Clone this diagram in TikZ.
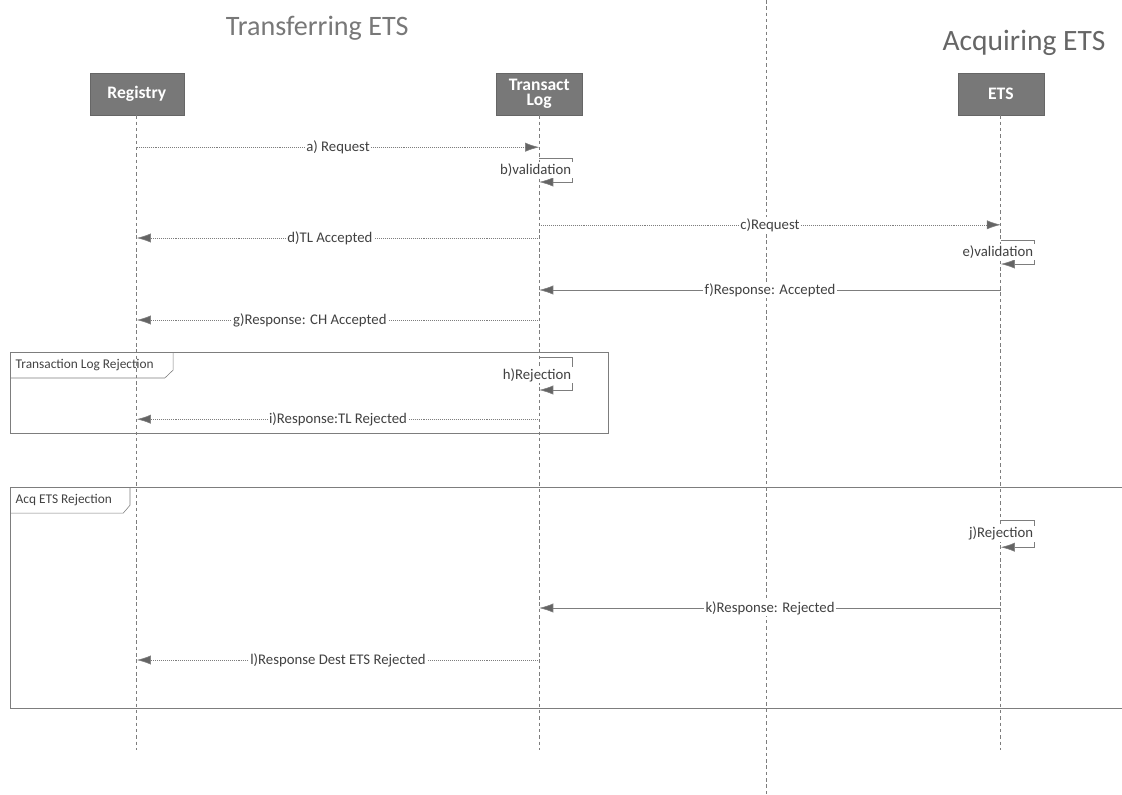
\documentclass[tikz,border=0pt]{standalone}
\usepackage{fontspec}
\setmainfont{Carlito}
\usetikzlibrary{arrows.meta, positioning, calc}
\definecolor{boxgray}{RGB}{120, 120, 120}
\definecolor{linegray}{RGB}{125, 125, 125}
\definecolor{textgray}{RGB}{65, 65, 65}
\definecolor{titlegray}{RGB}{120, 120, 120}

\begin{document}
\begin{tikzpicture}[
  actor/.style={draw=boxgray!85!black, fill=boxgray, text=white, font=\fontsize{12.5}{12}\selectfont\bfseries, minimum height=1.05cm, align=center, inner sep=2pt},
  lifeline/.style={linegray, dash pattern=on 2.5pt off 2pt, semithick},
  msg/.style={linegray, thin, -{Latex[length=10pt, width=6.5pt, fill=linegray!80!black]}},
  reply/.style={msg, densely dotted},
  lbl/.style={fill=white, text=textgray, font=\fontsize{10.5}{12}\selectfont, inner sep=1pt},
  frame/.style={linegray, thin},
  frametag/.style={text=textgray, font=\fontsize{9.5}{11}\selectfont, anchor=west, inner sep=1pt},
  title/.style={titlegray, font=\fontsize{20}{24}\selectfont}
]
  \useasboundingbox (0,0) rectangle (28.05,-19.85);

  % Titles and divider
  \node[title] (ttrans) at (7.93,-0.7) {Transferring ETS};
  \node[title, text=titlegray!85!black, font=\fontsize{21}{24}\selectfont] (tacq) at (25.6,-1.07) {Acquiring ETS};
  \coordinate (divtop) at (19.15,0);
  \coordinate (divbot) at (19.15,-19.85);
  \draw[lifeline] (divtop) -- (divbot);

  % Frames
  \draw[frame] (0.25,-8.8) rectangle (15.2,-10.83);
  \draw[frame] (0.25,-9.45) -- (4.12,-9.45) -- (4.33,-9.25) -- (4.33,-8.8);
  \node[frametag] (ftl) at (0.35,-9.12) {Transaction Log Rejection};
  \draw[frame] (28.05,-12.18) -- (0.25,-12.18) -- (0.25,-17.7) -- (28.05,-17.7);
  \draw[frame] (0.25,-12.83) -- (3.08,-12.83) -- (3.25,-12.63) -- (3.25,-12.18);
  \node[frametag] (facq) at (0.35,-12.5) {Acq ETS Rejection};

  % Actors and lifelines
  \node[actor, minimum width=2.35cm] (reg) at (3.42,-2.35) {Registry};
  \node[actor, minimum width=2.15cm] (tl) at (13.48,-2.35) {Transact\\[-1pt]Log};
  \node[actor, minimum width=2.15cm] (ets) at (25.02,-2.35) {ETS};
  \coordinate (lend) at (0,-18.75);
  \draw[lifeline] (reg) -- (reg |- lend);
  \draw[lifeline] (tl) -- (tl |- lend);
  \draw[lifeline] (ets) -- (ets |- lend);

  % Main flow
  \coordinate (ya) at (0,-3.68);
  \draw[reply] (reg |- ya) -- node[lbl] {a) Request} (tl |- ya);
  \coordinate (yb1) at (0,-3.95);
  \coordinate (yb2) at (0,-4.55);
  \draw[msg] (tl |- yb1) -- ++(0.82,0) |- (tl |- yb2);
  \node[lbl, anchor=east] (lb) at ($(tl |- yb1)!0.5!(tl |- yb2)+(0.84,0)$) {b)validation};
  \coordinate (yc) at (0,-5.62);
  \draw[reply] (tl |- yc) -- node[lbl] {c)Request} (ets |- yc);
  \coordinate (yd) at (0,-5.95);
  \draw[reply] (tl |- yd) -- node[lbl, pos=0.52] {d)TL Accepted} (reg |- yd);
  \coordinate (ye1) at (0,-6.0);
  \coordinate (ye2) at (0,-6.6);
  \draw[msg] (ets |- ye1) -- ++(0.83,0) |- (ets |- ye2);
  \node[lbl, anchor=east] (le) at ($(ets |- ye1)!0.5!(ets |- ye2)+(0.85,0)$) {e)validation};
  \coordinate (yf) at (0,-7.25);
  \draw[msg] (ets |- yf) -- node[lbl] {f)Response: Accepted} (tl |- yf);
  \coordinate (yg) at (0,-8.0);
  \draw[reply] (tl |- yg) -- node[lbl, pos=0.57] {g)Response: CH Accepted} (reg |- yg);

  % Transaction Log rejection
  \coordinate (yh1) at (0,-8.93);
  \coordinate (yh2) at (0,-9.75);
  \draw[msg] (tl |- yh1) -- ++(0.82,0) |- (tl |- yh2);
  \node[lbl, anchor=east] (lh) at ($(tl |- yh1)!0.55!(tl |- yh2)+(0.84,0)$) {h)Rejection};
  \coordinate (yi) at (0,-10.48);
  \draw[reply] (tl |- yi) -- node[lbl] {i)Response:TL Rejected} (reg |- yi);

  % Acquiring ETS rejection
  \coordinate (yj1) at (0,-13.0);
  \coordinate (yj2) at (0,-13.68);
  \draw[msg] (ets |- yj1) -- ++(0.83,0) |- (ets |- yj2);
  \node[lbl, anchor=east] (lj) at ($(ets |- yj1)!0.5!(ets |- yj2)+(0.85,0)$) {j)Rejection};
  \coordinate (yk) at (0,-15.2);
  \draw[msg] (ets |- yk) -- node[lbl] {k)Response: Rejected} (tl |- yk);
  \coordinate (yl) at (0,-16.5);
  \draw[reply] (tl |- yl) -- node[lbl] {l)Response Dest ETS Rejected} (reg |- yl);
\end{tikzpicture}
\end{document}
